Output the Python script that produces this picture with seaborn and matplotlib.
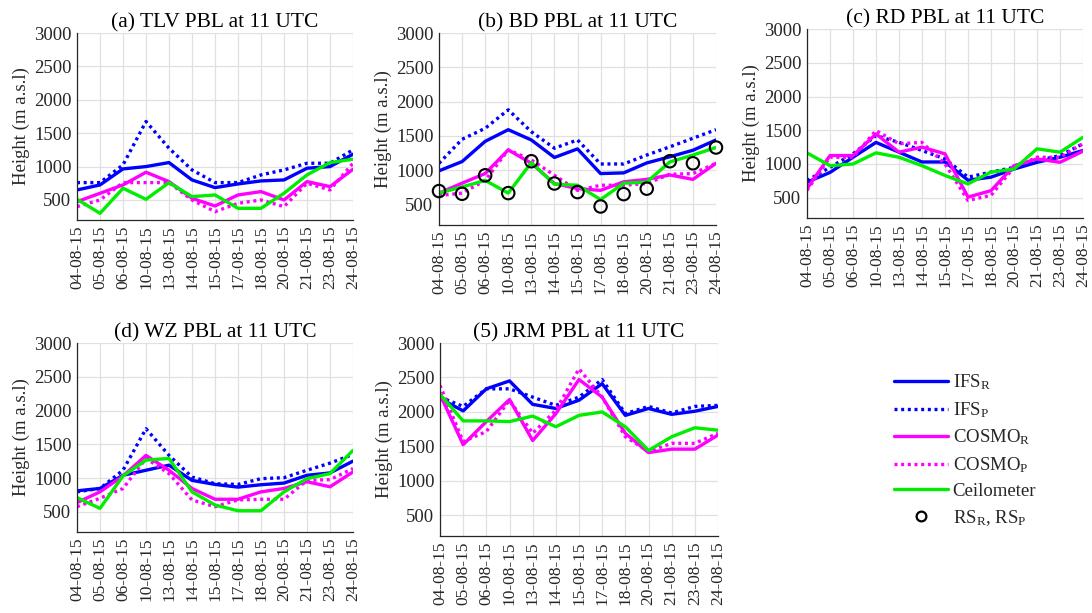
import matplotlib
matplotlib.use("Agg")
import matplotlib.pyplot as plt
import seaborn as sns
import numpy as np
from matplotlib.lines import Line2D

sns.set_theme(style="white")
plt.rcParams['font.family'] = ['Liberation Serif', 'DejaVu Serif']
plt.rcParams['mathtext.fontset'] = 'custom'
plt.rcParams['mathtext.rm'] = 'Liberation Serif'
plt.rcParams['mathtext.it'] = 'Liberation Serif:italic'

# Dates (categorical x axis)
dates = ['04-08-15', '05-08-15', '06-08-15', '10-08-15', '13-08-15', '14-08-15',
         '15-08-15', '17-08-15', '18-08-15', '20-08-15', '21-08-15', '23-08-15', '24-08-15']

# (a) TLV
tlv_ifs_r = [650, 725, 965, 1000, 1060, 800, 685, 740, 785, 800, 975, 1000, 1185]
tlv_ifs_p = [760, 760, 1025, 1675, 1275, 950, 760, 760, 875, 950, 1050, 1050, 1250]
tlv_cosmo_r = [475, 600, 725, 915, 775, 525, 410, 575, 625, 500, 775, 700, 960]
tlv_cosmo_p = [400, 500, 760, 760, 760, 500, 325, 450, 500, 400, 750, 650, 1050]
tlv_ceil = [510, 300, 675, 510, 760, 550, 575, 375, 375, 600, 875, 1060, 1110]

# (b) BD
bd_ifs_r = [990, 1125, 1420, 1590, 1440, 1185, 1310, 950, 960, 1105, 1195, 1290, 1440]
bd_ifs_p = [1100, 1450, 1610, 1880, 1560, 1320, 1440, 1090, 1090, 1220, 1340, 1465, 1590]
bd_cosmo_r = [665, 810, 950, 1295, 1100, 805, 730, 705, 830, 865, 930, 865, 1100]
bd_cosmo_p = [630, 665, 850, 1295, 1150, 925, 705, 780, 780, 805, 940, 950, 1100]
bd_ceil = [665, 755, 850, 665, 1110, 795, 780, 570, 810, 825, 1120, 1220, 1330]
bd_rs = [695, 655, 925, 665, 1130, 805, 680, 470, 650, 730, 1130, 1100, 1330]

# (c) RD
rd_ifs_r = [730, 875, 1100, 1320, 1175, 1030, 1030, 760, 805, 925, 1025, 1100, 1200]
rd_ifs_p = [755, 950, 1150, 1420, 1320, 1200, 1075, 805, 880, 950, 1050, 1125, 1300]
rd_cosmo_r = [635, 1125, 1125, 1445, 1175, 1250, 1150, 510, 605, 975, 1075, 1025, 1190]
rd_cosmo_p = [610, 1100, 1100, 1495, 1300, 1320, 1000, 460, 535, 950, 1100, 1100, 1300]
rd_ceil = [1165, 975, 1000, 1165, 1100, 975, 830, 705, 880, 925, 1225, 1175, 1395]

# (d) WZ
wz_ifs_r = [810, 845, 1040, 1115, 1190, 965, 905, 865, 900, 925, 1040, 1075, 1250]
wz_ifs_p = [795, 845, 1115, 1730, 1335, 1015, 915, 905, 990, 1005, 1115, 1220, 1350]
wz_cosmo_r = [635, 795, 1030, 1335, 1115, 845, 685, 685, 795, 845, 945, 870, 1090]
wz_cosmo_p = [575, 700, 845, 1290, 1065, 675, 575, 675, 685, 685, 965, 975, 1140]
wz_ceil = [710, 550, 1030, 1265, 1290, 795, 600, 515, 515, 795, 990, 1065, 1410]

# (5) JRM
jrm_ifs_r = [2195, 2015, 2335, 2450, 2110, 2050, 2170, 2410, 1950, 2050, 1965, 2010, 2080]
jrm_ifs_p = [2215, 2080, 2335, 2335, 2215, 2095, 2215, 2470, 1975, 2080, 1985, 2080, 2095]
jrm_cosmo_r = [2255, 1525, 1860, 2180, 1585, 1975, 2470, 2215, 1690, 1410, 1460, 1460, 1665]
jrm_cosmo_p = [2385, 1570, 1715, 2170, 1690, 2025, 2625, 2215, 1640, 1425, 1545, 1545, 1690]
jrm_ceil = [2255, 1870, 1870, 1860, 1940, 1785, 1950, 2000, 1785, 1440, 1640, 1770, 1735]

BLUE = '#0000FF'
MAGENTA = '#FF00FF'
GREEN = '#00EE00'
DOT = (0, (0.9, 1.1))
LW = 2.4

panels = [
    ('(a) TLV PBL at 11 UTC', (77, 33, 353, 220),
     tlv_ifs_r, tlv_ifs_p, tlv_cosmo_r, tlv_cosmo_p, tlv_ceil, None),
    ('(b) BD PBL at 11 UTC', (439, 33, 716, 225),
     bd_ifs_r, bd_ifs_p, bd_cosmo_r, bd_cosmo_p, bd_ceil, bd_rs),
    ('(c) RD PBL at 11 UTC', (807, 29, 1083, 218),
     rd_ifs_r, rd_ifs_p, rd_cosmo_r, rd_cosmo_p, rd_ceil, None),
    ('(d) WZ PBL at 11 UTC', (77, 343, 353, 532),
     wz_ifs_r, wz_ifs_p, wz_cosmo_r, wz_cosmo_p, wz_ceil, None),
    ('(5) JRM PBL at 11 UTC', (440, 343, 718, 536),
     jrm_ifs_r, jrm_ifs_p, jrm_cosmo_r, jrm_cosmo_p, jrm_ceil, None),
]

W, H = 1092, 613
fig = plt.figure(figsize=(W / 100, H / 100), dpi=100)
x = np.arange(len(dates))

for title, (l, t, r, b), ifs_r, ifs_p, cos_r, cos_p, ceil, rs in panels:
    ax = fig.add_axes([l / W, 1 - b / H, (r - l) / W, (b - t) / H])
    ax.grid(True, color='#e0e0e0', linewidth=0.9)
    ax.set_axisbelow(True)
    sns.lineplot(x=x, y=ifs_r, ax=ax, color=BLUE, linewidth=LW)
    sns.lineplot(x=x, y=ifs_p, ax=ax, color=BLUE, linewidth=LW, linestyle=DOT)
    sns.lineplot(x=x, y=cos_r, ax=ax, color=MAGENTA, linewidth=LW)
    sns.lineplot(x=x, y=cos_p, ax=ax, color=MAGENTA, linewidth=LW, linestyle=DOT)
    sns.lineplot(x=x, y=ceil, ax=ax, color=GREEN, linewidth=LW)
    if rs is not None:
        sns.scatterplot(x=x, y=rs, ax=ax, marker='o', s=80, facecolor='none',
                        edgecolor='black', linewidth=1.5, zorder=5, clip_on=False)
    ax.set_xlim(0, 12)
    ax.set_ylim(200, 3000)
    ax.set_yticks([500, 1000, 1500, 2000, 2500, 3000])
    ax.set_xticks(x)
    ax.set_xticklabels(dates, rotation=90, fontsize=12.5, color='#262626')
    ax.tick_params(axis='y', labelsize=13.5, colors='#262626')
    ax.tick_params(length=0, pad=4)
    ax.set_ylabel('Height (m a.s.l)', fontsize=13.5, color='#262626', labelpad=3)
    ax.set_title(title, fontsize=15.5, color='black', pad=4)
    for s in ['top', 'right']:
        ax.spines[s].set_visible(False)
    for s in ['left', 'bottom']:
        ax.spines[s].set_color('#262626')
        ax.spines[s].set_linewidth(0.9)

handles = [
    Line2D([], [], color=BLUE, linewidth=LW),
    Line2D([], [], color=BLUE, linewidth=LW, linestyle=DOT),
    Line2D([], [], color=MAGENTA, linewidth=LW),
    Line2D([], [], color=MAGENTA, linewidth=LW, linestyle=DOT),
    Line2D([], [], color=GREEN, linewidth=LW),
    Line2D([], [], color='black', marker='o', linestyle='none', markersize=7,
           markerfacecolor='none', markeredgewidth=1.6),
]
labels = ['IFS$_\\mathrm{R}$', 'IFS$_\\mathrm{P}$', 'COSMO$_\\mathrm{R}$',
          'COSMO$_\\mathrm{P}$', 'Ceilometer', 'RS$_\\mathrm{R}$, RS$_\\mathrm{P}$']
fig.legend(handles, labels, loc='upper left', bbox_to_anchor=(886 / W, 1 - 365 / H),
           frameon=False, fontsize=13.5, handlelength=2.9, handletextpad=0.25,
           labelspacing=0.42, borderaxespad=0)

fig.savefig('out.png', dpi=100)
